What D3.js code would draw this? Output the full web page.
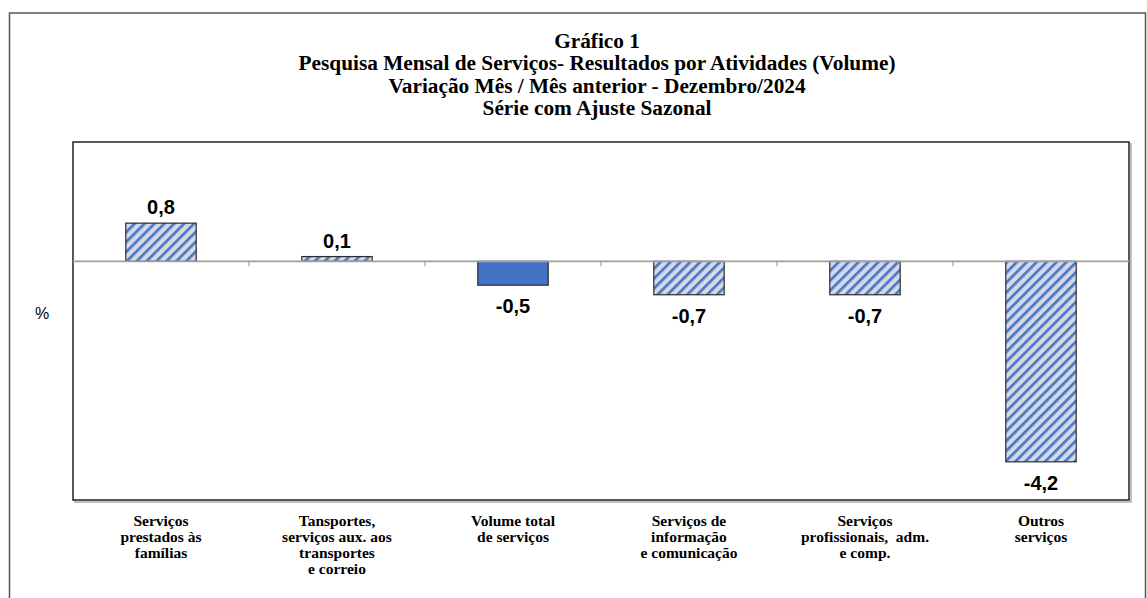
<!DOCTYPE html>
<meta charset="utf-8">
<style>
  body { margin: 0; background: #fff; }
  svg { display: block; }
</style>
<svg width="1147" height="598"></svg>
<script src="https://d3js.org/d3.v7.min.js"></script>
<script>

var titleLines = [
  "Gráfico 1",
  "Pesquisa Mensal de Serviços- Resultados por Atividades (Volume)",
  "Variação Mês / Mês anterior - Dezembro/2024",
  "Série com Ajuste Sazonal"
];

var categories = [
  ["Serviços", "prestados às", "famílias"],
  ["Tansportes,", "serviços aux. aos", "transportes", "e correio"],
  ["Volume total", "de serviços"],
  ["Serviços de", "informação", "e comunicação"],
  ["Serviços", "profissionais,  adm.", "e comp."],
  ["Outros", "serviços"]
];

var values = [0.8, 0.1, -0.5, -0.7, -0.7, -4.2];

var totalCategory = "Volume total";

var svg = d3.select("svg"),
    width = +svg.attr("width"),
    height = +svg.attr("height");

var plot = { left: 73, top: 142, right: 1129, bottom: 500 };

var idx = d3.range(values.length);

var x = d3.scaleBand()
    .domain(idx)
    .range([plot.left, plot.right])
    .paddingInner(0.6)
    .paddingOuter(0.3);

var y = d3.scaleLinear()
    .domain([-5, 2.5])
    .range([plot.bottom, plot.top]);

// diagonal stripe fill, like the excel "wide upward diagonal"
var defs = svg.append("defs");
var pat = defs.append("pattern")
    .attr("id", "stripes")
    .attr("patternUnits", "userSpaceOnUse")
    .attr("width", 7)
    .attr("height", 7)
    .attr("patternTransform", "rotate(45)");
pat.append("rect")
    .attr("width", 7).attr("height", 7)
    .attr("fill", "#d3dae6");
pat.append("rect")
    .attr("width", 2.7).attr("height", 7)
    .attr("fill", "#4a76c6");

// outer frame
svg.append("rect")
    .attr("x", 9.5).attr("y", 13)
    .attr("width", 1136).attr("height", 600)
    .attr("fill", "none")
    .attr("stroke", "#555")
    .attr("stroke-width", 1.5);

// title
svg.append("g")
  .selectAll("text")
  .data(titleLines)
  .enter().append("text")
    .attr("x", 597)
    .attr("y", function(d, i) { return 48 + i * 22.3; })
    .attr("text-anchor", "middle")
    .attr("font-family", "Liberation Serif, serif")
    .attr("font-weight", "bold")
    .attr("font-size", "21.3px")
    .attr("fill", "#000")
    .text(function(d) { return d; });

// plot area frame
svg.append("rect")
    .attr("x", plot.left + 2).attr("y", plot.top + 2)
    .attr("width", plot.right - plot.left).attr("height", plot.bottom - plot.top)
    .attr("fill", "none")
    .attr("stroke", "#aaa")
    .attr("stroke-width", 1.5);
svg.append("rect")
    .attr("x", plot.left).attr("y", plot.top)
    .attr("width", plot.right - plot.left).attr("height", plot.bottom - plot.top)
    .attr("fill", "#fff")
    .attr("stroke", "#000")
    .attr("stroke-width", 1.3);

// bars
svg.append("g")
  .selectAll("rect")
  .data(idx)
  .enter().append("rect")
    .attr("x", function(i) { return x(i); })
    .attr("y", function(i) { return y(Math.max(0, values[i])); })
    .attr("width", x.bandwidth())
    .attr("height", function(i) { return Math.abs(y(values[i]) - y(0)); })
    .attr("fill", function(i) { return categories[i][0] === totalCategory ? "#4472c4" : "url(#stripes)"; })
    .attr("stroke", "#2b2b2b")
    .attr("stroke-width", 1.2);

// zero line with ticks at the category boundaries
svg.append("line")
    .attr("x1", plot.left).attr("x2", plot.right)
    .attr("y1", y(0)).attr("y2", y(0))
    .attr("stroke", "#a0a0a0")
    .attr("stroke-width", 1.8);

svg.append("g")
  .selectAll("line")
  .data(idx.slice(1))
  .enter().append("line")
    .attr("x1", function(i) { return x(i) - x.step() * x.paddingInner() / 2; })
    .attr("x2", function(i) { return x(i) - x.step() * x.paddingInner() / 2; })
    .attr("y1", y(0)).attr("y2", y(0) + 5)
    .attr("stroke", "#a0a0a0")
    .attr("stroke-width", 1.2);

// data labels
var fmt = function(v) { return d3.format(".1f")(v).replace(".", ",").replace("−", "-"); };

svg.append("g")
  .selectAll("text")
  .data(idx)
  .enter().append("text")
    .attr("x", function(i) { return x(i) + x.bandwidth() / 2; })
    .attr("y", function(i) { return values[i] >= 0 ? y(values[i]) - 9 : y(values[i]) + 28; })
    .attr("text-anchor", "middle")
    .attr("font-family", "Liberation Sans, Arial, sans-serif")
    .attr("font-weight", "bold")
    .attr("font-size", "20px")
    .attr("fill", "#000")
    .text(function(i) { return fmt(values[i]); });

// "%" axis title
svg.append("text")
    .attr("x", 42).attr("y", 319)
    .attr("text-anchor", "middle")
    .attr("font-family", "Liberation Sans, Arial, sans-serif")
    .attr("font-size", "16px")
    .text("%");

// category labels
var cat = svg.append("g")
  .selectAll("text")
  .data(idx)
  .enter().append("text")
    .attr("text-anchor", "middle")
    .attr("font-family", "Liberation Serif, serif")
    .attr("font-weight", "bold")
    .attr("font-size", "15.5px")
    .attr("fill", "#000");

cat.selectAll("tspan")
    .data(function(i) { return categories[i].map(function(s) { return { s: s, i: i }; }); })
  .enter().append("tspan")
    .attr("x", function(d) { return x(d.i) + x.bandwidth() / 2; })
    .attr("y", function(d, j) { return 526 + j * 16; })
    .attr("xml:space", "preserve")
    .text(function(d) { return d.s; });

</script>
